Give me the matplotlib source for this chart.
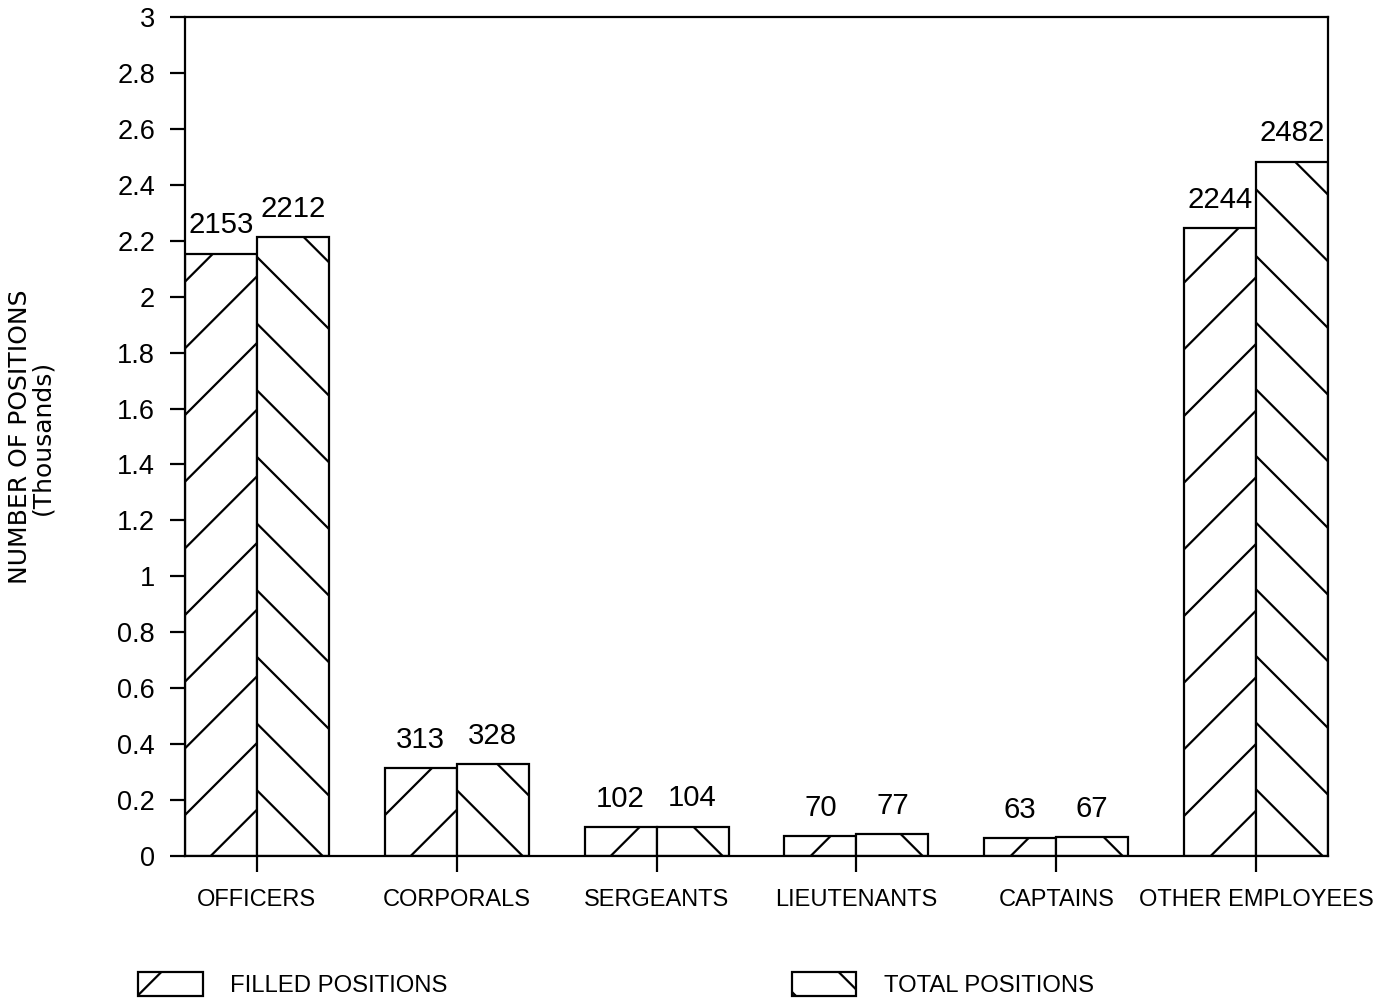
import matplotlib
matplotlib.use("Agg")
import matplotlib.pyplot as plt
import numpy as np

categories = ["OFFICERS", "CORPORALS", "SERGEANTS", "LIEUTENANTS", "CAPTAINS", "OTHER EMPLOYEES"]
filled = [2153, 313, 102, 70, 63, 2244]
total = [2212, 328, 104, 77, 67, 2482]
yTicks = [0, 0.2, 0.4, 0.6, 0.8, 1, 1.2, 1.4, 1.6, 1.8, 2, 2.2, 2.4, 2.6, 2.8, 3]

# high dpi + small figsize so the hatch spacing comes out wide like the scan
DPI = 400
plt.rcParams["hatch.linewidth"] = 0.4
plt.rcParams["hatch.color"] = "black"
plt.rcParams["font.family"] = ["Liberation Sans", "DejaVu Sans"]

fig = plt.figure(figsize=(1380 / DPI, 1002 / DPI), dpi=DPI)
ax = fig.add_axes([185 / 1380, 1 - 856 / 1002, (1328 - 185) / 1380, (856 - 17) / 1002])

x = np.arange(len(categories))
width = 0.36
filledK = np.array(filled) / 1000
totalK = np.array(total) / 1000
barsFilled = ax.bar(x - width / 2, filledK, width, facecolor="white", edgecolor="black",
                    linewidth=0.4, hatch="//", label="FILLED POSITIONS")
barsTotal = ax.bar(x + width / 2, totalK, width, facecolor="white", edgecolor="black",
                   linewidth=0.4, hatch="\\\\", label="TOTAL POSITIONS")
ax.bar_label(barsFilled, labels=[str(v) for v in filled], padding=2.6, fontsize=5.3)
ax.bar_label(barsTotal, labels=[str(v) for v in total], padding=2.6, fontsize=5.3)

ax.set_xlim(-0.36, len(categories) - 1 + 0.36)
ax.set_ylim(0, 3)
ax.set_yticks(yTicks)
ax.set_yticklabels([f"{v:g}" for v in yTicks], fontsize=4.9)
ax.set_xticks(x)
ax.set_xticklabels(categories, fontsize=4.25)
ax.tick_params(axis="y", direction="out", length=2.7, width=0.4, pad=2.7)
ax.tick_params(axis="x", direction="out", length=2.9, width=0.4, pad=3.0)
for spine in ax.spines.values():
    spine.set_linewidth(0.4)

fig.text(20 / 1380, 1 - 437 / 1002, "NUMBER OF POSITIONS", rotation=90, ha="center", va="center",
         fontsize=4.5, family="DejaVu Sans")
fig.text(42 / 1380, 1 - 437 / 1002, "(Thousands)", rotation=90, ha="center", va="center",
         fontsize=4.5, family="DejaVu Sans")

legend = fig.legend(handles=[barsFilled, barsTotal], loc="lower left",
                    bbox_to_anchor=(138 / 1380, 5 / 1002), ncol=2, frameon=False,
                    fontsize=4.3,
                    handlelength=2.7, handleheight=1.13, handletextpad=1.17,
                    columnspacing=14.4, borderpad=0, borderaxespad=0)

fig.savefig("out.png", dpi=DPI, facecolor="white")
